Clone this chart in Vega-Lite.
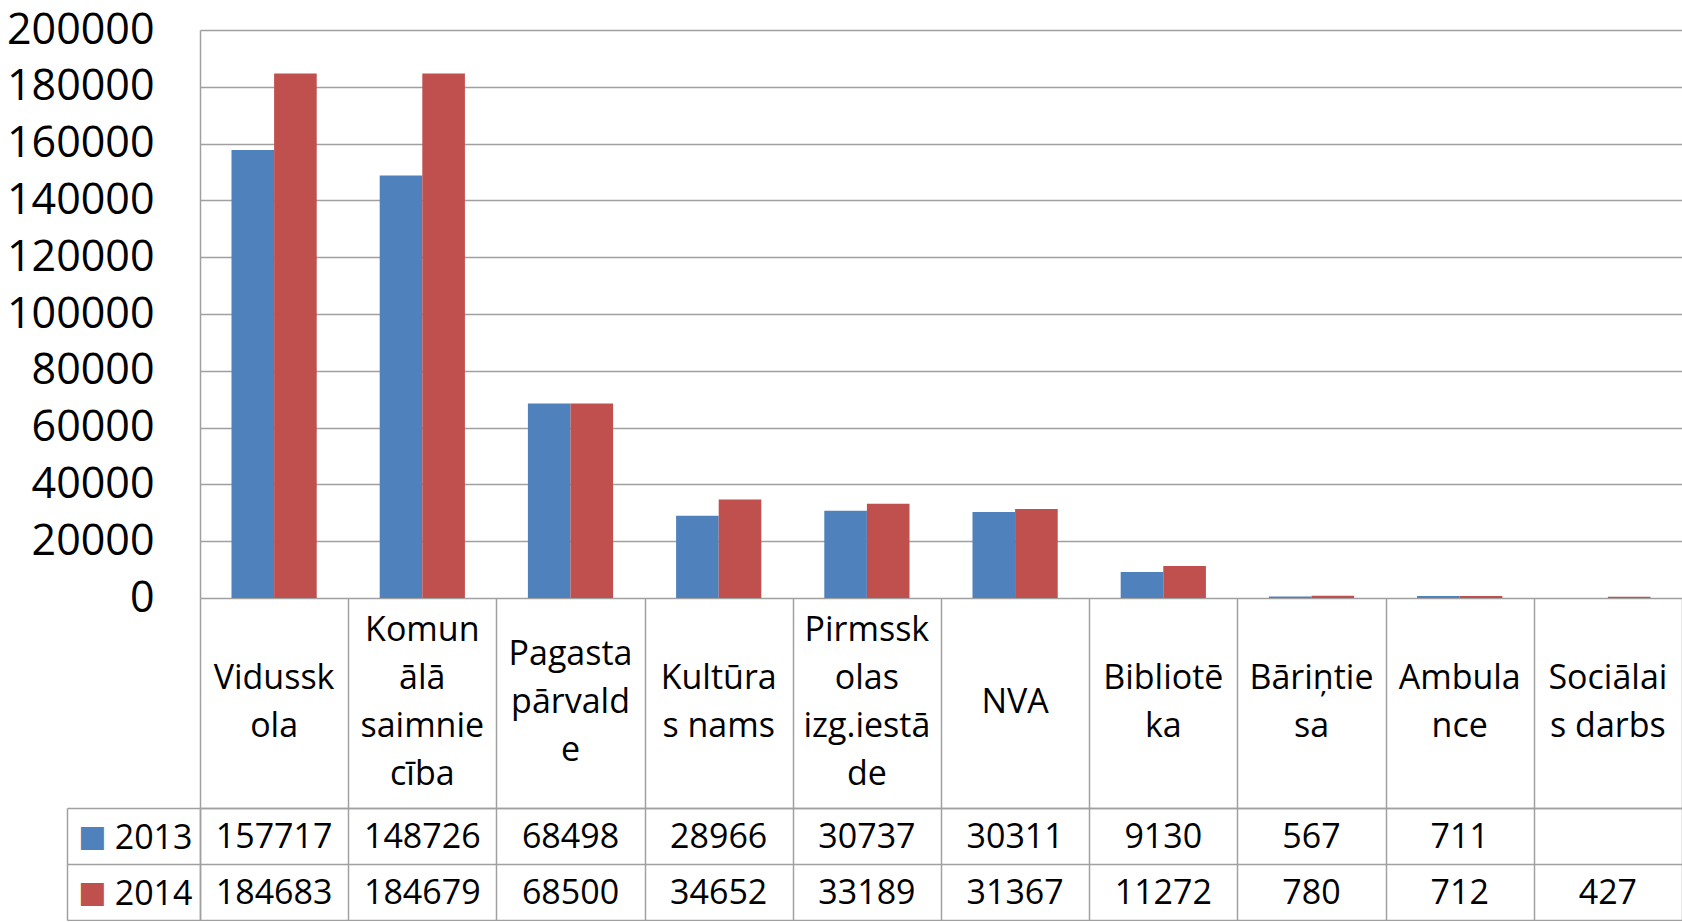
{
  "$schema": "https://vega.github.io/schema/vega-lite/v6.json",
  "padding": {"left": 0, "top": 9, "right": 0, "bottom": 0},
  "spacing": 0,
  "bounds": "flush",
  "config": {
    "view": {"stroke": null},
    "font": "Open Sans",
    "axis": {"labelFont": "Open Sans"}
  },
  "datasets": {
    "values": [
      {"category": "Vidusskola", "year": 2013, "value": 157717},
      {"category": "Vidusskola", "year": 2014, "value": 184683},
      {"category": "Komunālā saimniecība", "year": 2013, "value": 148726},
      {"category": "Komunālā saimniecība", "year": 2014, "value": 184679},
      {"category": "Pagasta pārvalde", "year": 2013, "value": 68498},
      {"category": "Pagasta pārvalde", "year": 2014, "value": 68500},
      {"category": "Kultūras nams", "year": 2013, "value": 28966},
      {"category": "Kultūras nams", "year": 2014, "value": 34652},
      {"category": "Pirmsskolas izg.iestāde", "year": 2013, "value": 30737},
      {"category": "Pirmsskolas izg.iestāde", "year": 2014, "value": 33189},
      {"category": "NVA", "year": 2013, "value": 30311},
      {"category": "NVA", "year": 2014, "value": 31367},
      {"category": "Bibliotēka", "year": 2013, "value": 9130},
      {"category": "Bibliotēka", "year": 2014, "value": 11272},
      {"category": "Bāriņtiesa", "year": 2013, "value": 567},
      {"category": "Bāriņtiesa", "year": 2014, "value": 780},
      {"category": "Ambulance", "year": 2013, "value": 711},
      {"category": "Ambulance", "year": 2014, "value": 712},
      {"category": "Sociālais darbs", "year": 2014, "value": 427}
    ],
    "cats": [
      {"category": "Vidusskola", "label": ["Vidussk", "ola"]},
      {"category": "Komunālā saimniecība", "label": ["Komun", "ālā", "saimnie", "cība"]},
      {"category": "Pagasta pārvalde", "label": ["Pagasta", "pārvald", "e"]},
      {"category": "Kultūras nams", "label": ["Kultūra", "s nams"]},
      {"category": "Pirmsskolas izg.iestāde", "label": ["Pirmssk", "olas", "izg.iestā", "de"]},
      {"category": "NVA", "label": ["NVA"]},
      {"category": "Bibliotēka", "label": ["Bibliotē", "ka"]},
      {"category": "Bāriņtiesa", "label": ["Bāriņtie", "sa"]},
      {"category": "Ambulance", "label": ["Ambula", "nce"]},
      {"category": "Sociālais darbs", "label": ["Sociālai", "s darbs"]}
    ]
  },
  "vconcat": [
    {
      "width": 1482,
      "height": 568,
      "data": {"name": "values"},
      "mark": {"type": "bar"},
      "encoding": {
        "x": {
          "field": "category", "type": "nominal", "sort": null, "axis": null,
          "scale": {"paddingInner": 0.425, "paddingOuter": 0.2125}
        },
        "xOffset": {"field": "year", "type": "nominal"},
        "y": {
          "field": "value", "type": "quantitative",
          "scale": {"domain": [0, 200000], "nice": false},
          "axis": {
            "title": null,
            "values": [0, 20000, 40000, 60000, 80000, 100000, 120000, 140000, 160000, 180000, 200000],
            "format": "d",
            "labelFontSize": 43,
            "labelColor": "#000000",
            "labelPadding": 46,
            "labelFlush": false,
            "ticks": false,
            "domain": true,
            "domainColor": "#A0A0A0",
            "domainWidth": 1.5,
            "grid": true,
            "gridColor": "#A0A0A0",
            "gridWidth": 1.5,
            "minExtent": 200,
            "maxExtent": 200
          }
        },
        "color": {
          "field": "year", "type": "nominal",
          "scale": {"domain": [2013, 2014], "range": ["#4F81BD", "#C0504D"]},
          "legend": null
        }
      }
    },
    {
      "width": 1482,
      "height": 210,
      "data": {"name": "cats"},
      "transform": [{"calculate": "length(datum.label)", "as": "nlines"}],
      "mark": {
        "type": "text", "lineHeight": 48, "fontSize": 34,
        "baseline": "middle", "align": "center", "color": "#000000"
      },
      "encoding": {
        "x": {
          "field": "category", "type": "nominal", "sort": null,
          "scale": {"paddingInner": 0, "paddingOuter": 0},
          "axis": {
            "orient": "bottom", "title": null, "labels": false, "ticks": false,
            "domain": true, "domainColor": "#A0A0A0", "domainWidth": 1.5,
            "grid": true, "gridColor": "#A0A0A0", "gridWidth": 1.5, "tickBand": "extent"
          }
        },
        "y": {
          "field": "nlines", "type": "quantitative",
          "scale": {"domain": [-3.375, 5.375], "nice": false, "zero": false},
          "axis": null
        },
        "text": {"field": "label"}
      }
    },
    {
      "width": 1482,
      "height": 112,
      "data": {"name": "values"},
      "layer": [
        {
          "mark": {"type": "text", "fontSize": 34, "color": "#000000", "baseline": "middle", "dy": 2},
          "encoding": {
            "x": {
              "field": "category", "type": "nominal", "sort": null,
              "scale": {"paddingInner": 0, "paddingOuter": 0},
              "axis": {
                "orient": "bottom", "title": null, "labels": false, "ticks": false,
                "domain": false,
                "grid": true, "gridColor": "#A0A0A0", "gridWidth": 1.5, "tickBand": "extent"
              }
            },
            "y": {
              "field": "year", "type": "ordinal",
              "scale": {"paddingInner": 0, "paddingOuter": 0},
              "axis": {
                "orient": "left", "title": null,
                "domain": true, "domainColor": "#A0A0A0", "domainWidth": 1.5,
                "ticks": true, "tickBand": "extent", "tickSize": 133,
                "tickColor": "#A0A0A0", "tickWidth": 1.5,
                "grid": true, "gridColor": "#A0A0A0", "gridWidth": 1.5,
                "labelPadding": -125, "labelFontSize": 34, "labelColor": "#000000",
                "labelAlign": "right", "labelBaseline": "middle", "labelOffset": 2
              }
            },
            "text": {"field": "value", "type": "quantitative", "format": "d"}
          }
        },
        {
          "mark": {"type": "text", "text": ""},
          "encoding": {
            "y": {
              "field": "year", "type": "ordinal",
              "axis": {
                "orient": "left", "offset": 133, "title": null,
                "domain": true, "domainColor": "#A0A0A0", "domainWidth": 1.5,
                "ticks": false, "grid": false,
                "labelExpr": "'■'",
                "labelFont": "DejaVu Sans",
                "labelFontSize": 30,
                "labelAlign": "center",
                "labelBaseline": "middle",
                "labelPadding": -24.7,
                "labelOffset": 1,
                "labelColor": {"condition": {"test": "datum.value == 2013", "value": "#4F81BD"}, "value": "#C0504D"}
              }
            }
          }
        }
      ],
      "resolve": {"axis": {"y": "independent"}}
    }
  ]
}
